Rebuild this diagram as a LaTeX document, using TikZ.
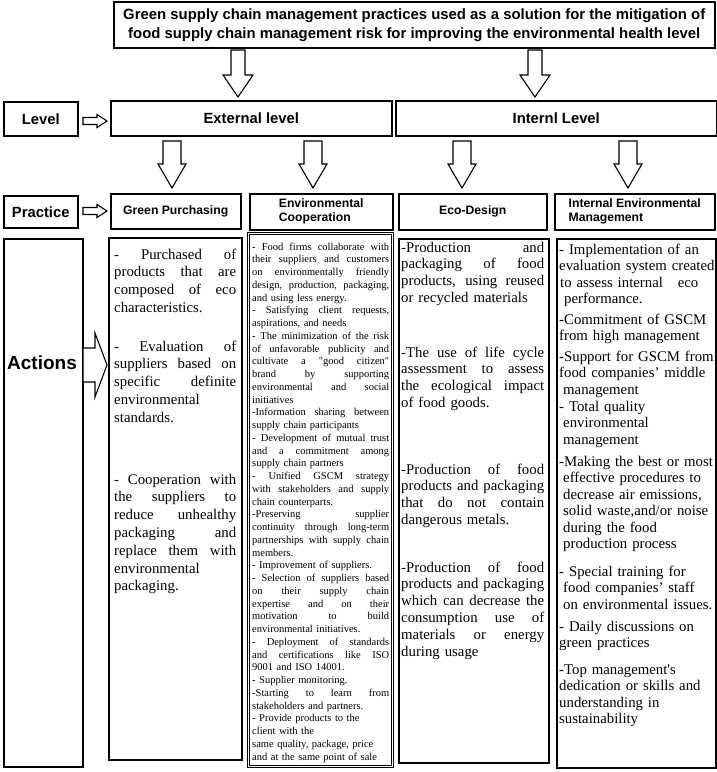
\documentclass[tikz,border=0pt]{standalone}
\usepackage{fontspec}
\setmainfont{Liberation Serif}
\setsansfont{Liberation Sans}
\usetikzlibrary{shadows}
\hyphenpenalty=10000

\newlength\colw
\newcommand\jl[1]{\leavevmode\hbox to\colw{\spaceskip=.25em plus 1fil\relax #1}}

\begin{document}
\begin{tikzpicture}[x=1pt, y=-1pt,
  cellbox/.style={draw, line width=1.5pt, inner sep=0pt, anchor=north west, fill=white},
  shadowed/.style={drop shadow={shadow xshift=1.4pt, shadow yshift=-1.4pt, fill=black!50, opacity=.6}},
  hdr/.style={font=\sffamily\bfseries\fontsize{14.8}{16}\selectfont},
  prac/.style={font=\sffamily\bfseries\fontsize{12.2}{14}\selectfont, align=left},
  blk/.style={draw, line width=1.1pt, fill=white, line join=miter},
  gptext/.style={anchor=base west, inner sep=0pt, text width=122pt, font=\fontsize{14.8}{17.8}\selectfont,
    execute at begin node={\setlength\colw{122pt}}},
  ectext/.style={anchor=base west, inner sep=0pt, text width=137pt, font=\fontsize{10.5}{12.75}\selectfont,
    execute at begin node={\setlength\colw{137pt}}},
  edtext/.style={anchor=base west, inner sep=0pt, text width=143pt, font=\fontsize{14.8}{16.8}\selectfont,
    execute at begin node={\setlength\colw{143pt}}},
  iemtext/.style={anchor=base west, inner sep=0pt, text width=165pt, align=left, font=\fontsize{14.8}{16.5}\selectfont}]

 \useasboundingbox (0,0) rectangle (717,772);

 % title
 \node[cellbox, minimum width=601pt, minimum height=46pt, align=center,
       font=\sffamily\bfseries\fontsize{14.9}{19}\selectfont] (title) at (113,1)
   {Green supply chain management practices used as a solution for the mitigation of\\
    food supply chain management risk for improving the environmental health level};

 % level row
 \node[cellbox, hdr, minimum width=74pt, minimum height=34pt] (level) at (3,101) {Level};
 \node[cellbox, hdr, minimum width=281pt, minimum height=35pt] (ext) at (110,100) {External level};
 \node[cellbox, hdr, minimum width=321pt, minimum height=35pt] (int) at (395,100) {Internl Level};

 % practice row
 \node[cellbox, hdr, minimum width=74pt, minimum height=32pt] (practice) at (3,195) {Practice};
 \node[cellbox, prac, minimum width=130pt, minimum height=35pt] (gp) at (110,193) {Green Purchasing};
 \node[cellbox, prac, minimum width=143pt, minimum height=36pt] (ecp) at (249,193) {Environmental\\Cooperation};
 \node[cellbox, prac, minimum width=148pt, minimum height=36pt] (edp) at (398,193) {Eco-Design};
 \node[cellbox, prac, minimum width=160pt, minimum height=36pt] (iemp) at (554,193) {Internal Environmental\\Management};

 % actions row
 \node[cellbox, shadowed, minimum width=79pt, minimum height=528pt] (actions) at (3,238) {};
 \node[font=\sffamily\bfseries\fontsize{19}{21}\selectfont, inner sep=0pt] (actlbl) at (42,363) {Actions};
 \node[cellbox, shadowed, minimum width=133pt, minimum height=522pt] (gpa) at (108,237) {};
 \node[cellbox, double, line width=.9pt, double distance=1pt, minimum width=144pt, minimum height=533pt] (eca) at (248,233) {};
 \node[cellbox, shadowed, minimum width=150pt, minimum height=524pt] (eda) at (398,238) {};
 \node[cellbox, shadowed, minimum width=159pt, minimum height=529pt] (iema) at (556,238) {};

 % green purchasing
 \node[gptext] (gp1) at (114,259) {\jl{- Purchased of}\\ \jl{products that are}\\ \jl{composed of eco}\\ characteristics.};
 \node[gptext] (gp2) at (114,351) {\jl{- Evaluation of}\\ \jl{suppliers based on}\\ \jl{specific definite}\\ environmental\\ standards.};
 \node[gptext] (gp3) at (114,484) {\jl{- Cooperation with}\\ \jl{the suppliers to}\\ \jl{reduce unhealthy}\\ \jl{packaging and}\\ \jl{replace them with}\\ environmental\\ packaging.};

 % environmental cooperation
 \node[ectext] (ec) at (252,250) {%
  \jl{- Food firms collaborate with}\\
  \jl{their suppliers and customers}\\
  \jl{on environmentally friendly}\\
  \jl{design, production, packaging,}\\
  and using less energy.\\
  \jl{- Satisfying client requests,}\\
  aspirations, and needs\\
  \jl{- The minimization of the risk}\\
  \jl{of unfavorable publicity and}\\
  \jl{cultivate a \textquotedbl good citizen\textquotedbl}\\
  \jl{brand by supporting}\\
  \jl{environmental and social}\\
  initiatives\\
  \jl{-Information sharing between}\\
  supply chain participants\\
  \jl{- Development of mutual trust}\\
  \jl{and a commitment among}\\
  supply chain partners\\
  \jl{- Unified GSCM strategy}\\
  \jl{with stakeholders and supply}\\
  chain counterparts.\\
  \jl{-Preserving supplier}\\
  \jl{continuity through long-term}\\
  \jl{partnerships with supply chain}\\
  members.\\
  - Improvement of suppliers.\\
  \jl{- Selection of suppliers based}\\
  \jl{on their supply chain}\\
  \jl{expertise and on their}\\
  \jl{motivation to build}\\
  environmental initiatives.\\
  \jl{- Deployment of standards}\\
  \jl{and certifications like ISO}\\
  9001 and ISO 14001.\\
  - Supplier monitoring.\\
  \jl{-Starting to learn from}\\
  stakeholders and partners.\\
  - Provide products to the\\
  client with the\\
  same quality, package, price\\
  and at the same point of sale};

 % eco-design
 \node[edtext] (ed1) at (401,252) {\jl{-Production and}\\ \jl{packaging of food}\\ \jl{products, using reused}\\ or recycled materials};
 \node[edtext] (ed2) at (401,357) {\jl{-The use of life cycle}\\ \jl{assessment to assess}\\ \jl{the ecological impact}\\ of food goods.};
 \node[edtext] (ed3) at (401,474) {\jl{-Production of food}\\ \jl{products and packaging}\\ \jl{that do not contain}\\ dangerous metals.};
 \node[edtext] (ed4) at (401,572) {\jl{-Production of food}\\ \jl{products and packaging}\\ \jl{which can decrease the}\\ \jl{consumption use of}\\ \jl{materials or energy}\\ during usage};

 % internal environmental management
 \node[iemtext] (iem1) at (559,254) {- Implementation of an\\ evaluation system created\\ \hspace*{1pt}to assess internal\ \ \ eco\\ \hspace*{5pt}performance.};
 \node[iemtext] (iem2) at (559,324) {-Commitment of GSCM\\ from high management};
 \node[iemtext] (iem3) at (559,361) {-Support for GSCM from\\ food companies’ middle\\ \hspace*{4pt}management};
 \node[iemtext] (iem4) at (559,411) {- Total quality\\ \hspace*{4pt}environmental\\ \hspace*{4pt}management};
 \node[iemtext] (iem5) at (559,466) {-Making the best or most\\ \hspace*{4pt}effective procedures to\\ \hspace*{4pt}decrease air emissions,\\ \hspace*{4pt}solid waste,and/or noise\\ \hspace*{4pt}during the food\\ \hspace*{4pt}production process};
 \node[iemtext] (iem6) at (559,576) {- Special training for\\ \hspace*{4pt}food companies’ staff\\ \hspace*{4pt}on environmental issues.};
 \node[iemtext] (iem7) at (559,631) {- Daily discussions on\\ green practices};
 \node[iemtext] (iem8) at (559,674) {-Top management\textquotesingle s\\ dedication or skills and\\ understanding in\\ sustainability};

 % arrows down
 \foreach \ax/\ay/\len/\sw/\hw/\hl in {238/50/47/14/30/22, 535/50/47/14/30/22,
     172/141/47/18/28/24, 313/141/47/18/28/24, 462/141/47/18/28/24, 628/141/47/18/28/24}
   \draw[blk] (\ax-\sw/2,\ay) -- (\ax+\sw/2,\ay) -- (\ax+\sw/2,\ay+\len-\hl) -- (\ax+\hw/2,\ay+\len-\hl)
     -- (\ax,\ay+\len) -- (\ax-\hw/2,\ay+\len-\hl) -- (\ax-\sw/2,\ay+\len-\hl) -- cycle;

 % arrows right
 \foreach \ax/\ay/\len/\sw/\hw/\hl in {83/121/24/7/13/10, 83/211/24/7/13/10, 83/365/24/34/64/12}
   \draw[blk] (\ax,\ay-\sw/2) -- (\ax,\ay+\sw/2) -- (\ax+\len-\hl,\ay+\sw/2) -- (\ax+\len-\hl,\ay+\hw/2)
     -- (\ax+\len,\ay) -- (\ax+\len-\hl,\ay-\hw/2) -- (\ax+\len-\hl,\ay-\sw/2) -- cycle;

\end{tikzpicture}
\end{document}
